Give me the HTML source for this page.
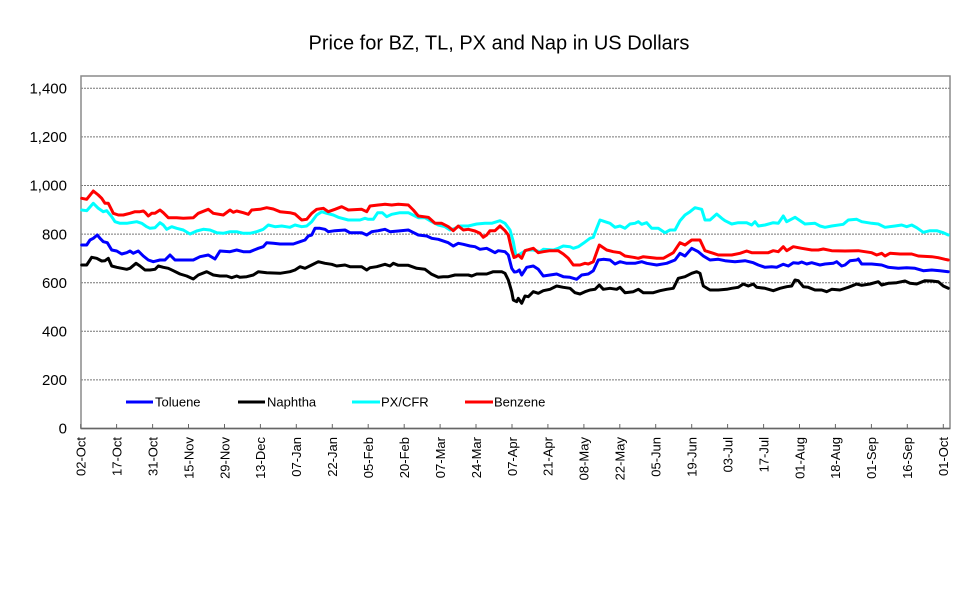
<!DOCTYPE html>
<html><head><meta charset="utf-8"><style>
html,body{margin:0;padding:0;background:#fff;}
svg{display:block;}
text{font-family:"Liberation Sans",Arial,sans-serif;fill:#000;}
</style></head><body>
<svg width="967" height="589" viewBox="0 0 967 589" xmlns="http://www.w3.org/2000/svg">
<rect width="967" height="589" fill="#fff"/>
<text x="499" y="49.5" font-size="20" text-anchor="middle">Price for BZ, TL, PX and Nap in US Dollars</text>
<g stroke="#777" stroke-width="1" stroke-dasharray="2,1">
<line x1="81" y1="88.3" x2="950" y2="88.3"/>
<line x1="81" y1="136.9" x2="950" y2="136.9"/>
<line x1="81" y1="185.5" x2="950" y2="185.5"/>
<line x1="81" y1="234.1" x2="950" y2="234.1"/>
<line x1="81" y1="282.7" x2="950" y2="282.7"/>
<line x1="81" y1="331.3" x2="950" y2="331.3"/>
<line x1="81" y1="379.9" x2="950" y2="379.9"/>
</g>
<rect x="81" y="76" width="869" height="352.5" fill="none" stroke="#8a8a8a" stroke-width="1.5"/>
<line x1="81" y1="428.5" x2="950" y2="428.5" stroke="#666" stroke-width="1.5"/>
<g font-size="15" text-anchor="end">
<text x="67" y="93.5">1,400</text>
<text x="67" y="142.1">1,200</text>
<text x="67" y="190.7">1,000</text>
<text x="67" y="239.3">800</text>
<text x="67" y="287.9">600</text>
<text x="67" y="336.5">400</text>
<text x="67" y="385.1">200</text>
<text x="67" y="433.7">0</text>
</g>
<g stroke="#666" stroke-width="1">
<line x1="80.7" y1="424" x2="80.7" y2="428.5"/>
<line x1="116.6" y1="424" x2="116.6" y2="428.5"/>
<line x1="152.6" y1="424" x2="152.6" y2="428.5"/>
<line x1="188.5" y1="424" x2="188.5" y2="428.5"/>
<line x1="224.5" y1="424" x2="224.5" y2="428.5"/>
<line x1="260.4" y1="424" x2="260.4" y2="428.5"/>
<line x1="296.3" y1="424" x2="296.3" y2="428.5"/>
<line x1="332.3" y1="424" x2="332.3" y2="428.5"/>
<line x1="368.2" y1="424" x2="368.2" y2="428.5"/>
<line x1="404.2" y1="424" x2="404.2" y2="428.5"/>
<line x1="440.1" y1="424" x2="440.1" y2="428.5"/>
<line x1="476.0" y1="424" x2="476.0" y2="428.5"/>
<line x1="512.0" y1="424" x2="512.0" y2="428.5"/>
<line x1="547.9" y1="424" x2="547.9" y2="428.5"/>
<line x1="583.9" y1="424" x2="583.9" y2="428.5"/>
<line x1="619.8" y1="424" x2="619.8" y2="428.5"/>
<line x1="655.7" y1="424" x2="655.7" y2="428.5"/>
<line x1="691.7" y1="424" x2="691.7" y2="428.5"/>
<line x1="727.6" y1="424" x2="727.6" y2="428.5"/>
<line x1="763.6" y1="424" x2="763.6" y2="428.5"/>
<line x1="799.5" y1="424" x2="799.5" y2="428.5"/>
<line x1="835.4" y1="424" x2="835.4" y2="428.5"/>
<line x1="871.4" y1="424" x2="871.4" y2="428.5"/>
<line x1="907.3" y1="424" x2="907.3" y2="428.5"/>
<line x1="943.3" y1="424" x2="943.3" y2="428.5"/>
</g>
<g font-size="13" text-anchor="end">
<text transform="translate(85.5,437) rotate(-90)">02-Oct</text>
<text transform="translate(121.4,437) rotate(-90)">17-Oct</text>
<text transform="translate(157.4,437) rotate(-90)">31-Oct</text>
<text transform="translate(193.3,437) rotate(-90)">15-Nov</text>
<text transform="translate(229.3,437) rotate(-90)">29-Nov</text>
<text transform="translate(265.2,437) rotate(-90)">13-Dec</text>
<text transform="translate(301.1,437) rotate(-90)">07-Jan</text>
<text transform="translate(337.1,437) rotate(-90)">22-Jan</text>
<text transform="translate(373.0,437) rotate(-90)">05-Feb</text>
<text transform="translate(409.0,437) rotate(-90)">20-Feb</text>
<text transform="translate(444.9,437) rotate(-90)">07-Mar</text>
<text transform="translate(480.8,437) rotate(-90)">24-Mar</text>
<text transform="translate(516.8,437) rotate(-90)">07-Apr</text>
<text transform="translate(552.7,437) rotate(-90)">21-Apr</text>
<text transform="translate(588.7,437) rotate(-90)">08-May</text>
<text transform="translate(624.6,437) rotate(-90)">22-May</text>
<text transform="translate(660.5,437) rotate(-90)">05-Jun</text>
<text transform="translate(696.5,437) rotate(-90)">19-Jun</text>
<text transform="translate(732.4,437) rotate(-90)">03-Jul</text>
<text transform="translate(768.4,437) rotate(-90)">17-Jul</text>
<text transform="translate(804.3,437) rotate(-90)">01-Aug</text>
<text transform="translate(840.2,437) rotate(-90)">18-Aug</text>
<text transform="translate(876.2,437) rotate(-90)">01-Sep</text>
<text transform="translate(912.1,437) rotate(-90)">16-Sep</text>
<text transform="translate(948.1,437) rotate(-90)">01-Oct</text>
</g>
<g fill="none" stroke-width="3" stroke-linejoin="round" stroke-linecap="round">
<polyline stroke="#000" points="81.7,265 86.7,265 91.7,257.3 96.7,258.3 101.7,261 105,260.7 108.3,258.3 111.7,266 116.7,267.3 126.7,269.3 130,268.3 136,263.3 140,266 145,270 150,270 155,269.3 158.3,266 163.3,267.3 168.3,268.3 173.3,270.7 180,274 186.7,276 193.3,279 198.3,275 206.7,271.7 213.3,275 220,276 226.7,276 231.7,277.7 236.7,276 240,277.3 246.7,276.7 253.3,275 258.3,271.7 266.7,272.7 280,273.3 290,271.7 295,270 300,266.7 305,268.3 311.7,265 318.3,261.7 325,263.3 331.7,264.3 336.7,266 345,265 350,266.7 361.7,266.7 366.7,270 370,267.7 376.7,266.7 385,264.3 390,266 393.3,263.3 398.3,265.3 408.3,265.3 416.7,268.3 425,269.3 431.7,274.3 438.3,277.3 443.3,276.7 448.3,276.7 455,275 468.3,275 471.7,276 476.7,274 486.7,274 493.3,271.7 501.7,271.7 505,273.3 508.3,280 511.7,291.7 513.3,300 516.7,301.7 518.3,298.3 521.7,303.3 525,296 528.3,296.7 533.3,291.7 538.3,293.3 543.3,290.7 550,289.3 556.7,286 563.3,287.3 570,288.3 575,292.7 580,294 585,291.7 590,290 595,289.3 599.3,285 603.3,289.3 610,288.3 616.7,289.3 620,287.3 625,292.7 633.3,291.7 638.3,289.3 643.3,292.7 653.3,292.7 660,290.7 666.7,289.3 673.3,288.3 678.3,278.3 685,276.7 691.7,273.3 696.7,271.7 700,273.3 703.3,286 710,290 718.3,290 726.7,289.3 731.7,288.3 738.3,287.3 743.3,284 748.3,286 753.3,284 756.7,287.3 765,288.3 773.3,290.7 780,288.3 786.7,286.7 791.7,286 795,280 798.3,280.7 803.3,286.7 808.3,287.3 815,290 821.7,290 826.7,291.7 831.7,289.3 840,290 848.3,287.3 856.7,284 861.7,285.3 870,284 878.3,281.7 881.7,285 888.3,283.3 896.7,282.7 905,281 910,283.3 916.7,284 925,280.7 931.7,281 938.3,281.7 943.3,286 948.3,288.3"/>
<polyline stroke="#0000ff" points="81.7,245 86.7,245 90,240 93.3,238.3 97.3,235 100,238.3 103.3,241.7 107.3,242.7 111.7,250 116.7,251 121.7,254 126.7,252.7 130,251 133.3,253.3 138.3,251 143.3,256 148.3,260 153.3,261.7 160,260 165,260 170,255 175,260 180,260 193.3,260 200,256.7 208.3,255 215,259 220,251 230,251.7 236.7,250 243.3,251.7 250,251.7 258.3,248.3 263.3,246.7 266.7,242.7 273.3,243.3 280,244 293.3,244 300,241.7 305,240 308.3,236 311.7,235 315,228.3 320,228.3 325,229.3 328.3,231.7 335,230.7 345,230 350,232.7 361.7,232.7 366.7,235 371.7,231.7 378.3,230.7 385,229.3 390,231.7 398.3,231 408.3,230 411.7,231.7 418.3,235 426.7,236 431.7,238.3 438.3,239.3 448.3,242.7 453.3,246 458.3,243.3 463.3,244.3 470,246 475,246.7 480,249.3 486.7,248.3 490,250 495,252.7 498.3,250.7 505,251.7 508.3,255 511.7,268.3 514.3,272 516.7,271.7 519.3,270 521.7,275 526.7,267.3 533.3,266 538.3,269.3 543.3,276 550,275 556.7,274 563.3,276.7 570,277.3 576.7,279.3 581.7,275 588.3,274 593.3,270.7 598.3,260 603.3,259.3 610,260 615,264 620,261.7 626.7,263.3 635,263.3 641.7,261.7 646.7,263.3 656.7,265 666.7,263.3 675,260 680,253.3 685,256 691.7,248.3 698.3,251.7 703.3,256 710,260 718.3,259.3 725,260.7 735,261.7 745,260.7 753.3,262.7 758.3,265 765,267.3 771.7,266.7 776.7,267.3 783.3,264.3 788.3,266 793.3,262.7 798.3,263.3 801.7,262 806.7,264 811.7,262.7 820,265 825,264 833.3,263.3 836.7,261.7 841.7,266 845,265 850,260.7 856.7,260 858.3,259 861.7,264 871.7,264 881.7,265 888.3,267.3 898.3,268.3 906.7,267.7 915,268.3 923.3,270.7 931.7,270 940,270.7 948.3,271.7"/>
<polyline stroke="#00ffff" points="81.7,210 86.7,210.7 93.3,203.3 98.3,208.3 103.3,211.7 106.7,210.7 111.7,216.7 115,221.7 120,223.3 126.7,223.3 136.7,221.7 141.7,223.3 146.7,226.7 150,228.3 155,227.7 160,222.7 163.3,225 166.7,229.3 171.7,226.7 176.7,228.3 183.3,230 190,234 196.7,231 203.3,229.3 210,230 216.7,232.7 223.3,233.3 230,231.7 236.7,231.7 243.3,233.3 250,233.3 256.7,231.7 263.3,229.3 268.3,225 275,226.7 281.7,226 290,227.3 295,225 301.7,226.7 306.7,226 311.7,221.7 316.7,215 321.7,211.7 326.7,213.3 333.3,215 338.3,217.3 348.3,220 360,220 365,218.3 368.3,219.3 373.3,219.3 377.7,212.7 382.3,212.7 386.7,216.7 391.7,214.3 400,212.7 408.3,212.7 415,216 418.3,217.7 425,217.7 431.7,221.7 438.3,225 445,226.7 450,230 455,228.3 460,226 468.3,226 476.7,224 485,223.3 491.7,223.3 500,220.7 505,223.3 510,230 513.3,241.7 516,256.7 520,254 526.7,250 533.3,250 540,251.7 543.3,249.3 553.3,250 558.3,248.3 563.3,246 570,246.7 573.3,248.3 578.3,246.7 583.3,243.3 590,238.3 593.3,237.3 596.7,228.3 600,220 605,221.7 610,223.3 615,227.3 620,226 625,228.3 630,224 635,223.3 638.3,221.7 641.7,224.3 646.7,222.7 651.7,228.3 658.3,228.3 665,232.7 670,230 675,230 680,220.7 685,215 690,211.7 695,207.7 701.7,209.3 705,220 710,220 716.7,214 721.7,218.3 725,220.7 731.7,224 738.3,222.7 746.7,222.7 751.7,225 755,221.7 758.3,226 765,225 773.3,222.7 778.3,223.3 783.3,216 786.7,221.7 795,217.3 805,224 815,223.3 820,226 825,227.3 831.7,226 843.3,224.3 848.3,220 856.7,219.3 861.7,221.7 871.7,223.3 878.3,224 885,227.3 895,226 901.7,225 906.7,226.7 911.7,225 916.7,227.7 923.3,232.3 930,230.7 936.7,230.7 943.3,232.7 948.3,235"/>
<polyline stroke="#ff0000" points="81.7,198.3 86.7,199.3 93.3,191 98.3,195 101.7,198.3 105,203.3 108.3,203.3 111.7,210 113.3,213.3 118.3,215 123.3,215 130,213.3 135,211.7 140,211.7 143.3,211 145,212.3 148.3,216 151.7,213.3 155,213.3 160,210 163.3,212.7 168.3,217.7 176.7,217.7 183.3,218.3 193.3,217.7 198.3,213.3 208.3,209.3 213.3,213.3 223.3,215 230,210 233.3,212.3 236.7,211 243.3,212.7 248.3,214.3 251.7,210 260,209.3 266.7,207.7 273.3,209 280,211.7 290,212.7 295,214 301.7,220 306.7,219.3 311.7,213.3 316.7,209.3 323.3,208.3 328.3,211.7 335,209.3 341.7,206.7 348.3,210 361.7,209.3 366.7,211.7 370,206 378.3,205 385,204.3 391.7,205 398.3,204.3 408.3,205 413.3,210 418.3,216 428.3,217.3 435,223.3 441.7,223.3 448.3,226.7 453.3,230.7 458.3,226 463.3,230 468.3,229.3 475,231 480,233.3 483.3,237.3 486.7,235 490,230.7 495,230.7 500,226 505,230.7 508.3,235 511.7,250 514,257.5 516,256.7 518.3,255 521.7,258.3 525,250.7 533.3,248.3 538.3,252.7 543.3,251.7 550,250.7 558.3,250.7 563.3,254 568.3,258.3 573.3,265 580,265 585,263.3 588.3,264 593.3,261.7 599.3,245 606.7,250 613.3,251.7 620,252.7 625,256 633.3,257.3 638.3,258.3 643.3,256.7 656.7,258.3 663.3,258.3 673.3,252.7 680,242.7 685,245 691.7,240 700,240 705,250.7 713.3,253.3 718.3,255 725,255 731.7,255 740,253.3 746.7,251 751.7,252.7 758.3,252.7 768.3,252.7 773.3,250.7 778.3,251.7 783.3,246.7 786.7,250.7 793.3,246.7 801.7,248.3 811.7,250 818.3,250 823.3,249 831.7,250.7 845,251 858.3,250.7 865,251.7 871.7,252.7 876.7,255 881.7,253.3 885,256 890,253.3 900,254 911.7,254 918.3,256 931.7,256.7 938.3,257.7 945,259.3 948.3,260"/>
</g>
<g stroke-width="3">
<line x1="126" y1="402" x2="153" y2="402" stroke="#0000ff"/>
<line x1="238" y1="402" x2="265" y2="402" stroke="#000"/>
<line x1="352" y1="402" x2="380" y2="402" stroke="#00ffff"/>
<line x1="465" y1="402" x2="493" y2="402" stroke="#ff0000"/>
</g>
<g font-size="13">
<text x="155" y="406.5">Toluene</text>
<text x="267" y="406.5">Naphtha</text>
<text x="381" y="406.5">PX/CFR</text>
<text x="494" y="406.5">Benzene</text>
</g>
</svg>
</body></html>
